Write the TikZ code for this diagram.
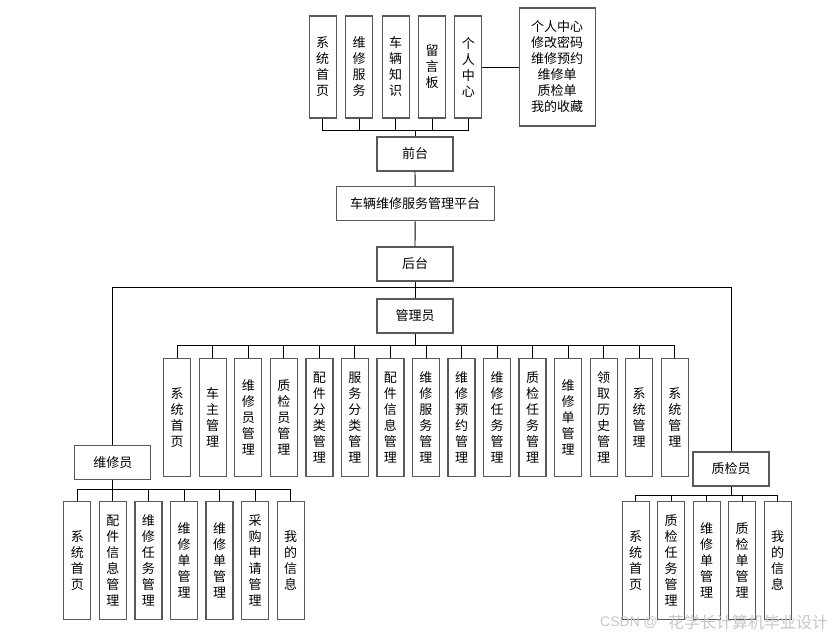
\documentclass[tikz,border=0pt]{standalone}
\usepackage{fontspec}
\setmainfont{Liberation Sans}
\newfontfamily\cjk{Noto Sans CJK SC}
\begin{document}
\begin{tikzpicture}[x=1pt,y=-1pt,
  box/.style={draw=black!65, line width=1.3pt, inner sep=0pt, align=center, font=\cjk\fontsize{13}{16}\selectfont},
  vbox/.style={box, minimum width=27pt, minimum height=118pt},
  hbox/.style={box, minimum width=76pt, minimum height=34pt},
  link/.style={draw=black, line width=0.9pt},
  wmark/.style={text=black!22, inner sep=0pt, anchor=west}]
\fill[white] (0,0) rectangle (839,637);
\useasboundingbox (0,0) rectangle (839,637);

% top (front) level
\node[vbox, minimum height=102pt] (t1) at (322.7,67) {系\\统\\首\\页};
\node[vbox, minimum height=102pt] (t2) at (359.2,67) {维\\修\\服\\务};
\node[vbox, minimum height=102pt] (t3) at (395.7,67) {车\\辆\\知\\识};
\node[vbox, minimum height=102pt] (t4) at (432,67) {留\\言\\板};
\node[vbox, minimum height=102pt] (t5) at (468.3,67) {个\\人\\中\\心};
\node[box, minimum width=76pt, minimum height=118pt] (pc) at (557.2,67) {个人中心\\修改密码\\维修预约\\维修单\\质检单\\我的收藏};

\node[hbox] (qt) at (415,154) {前台};
\node[hbox, minimum width=158pt] (pt) at (415.2,203.7) {车辆维修服务管理平台};
\node[hbox] (ht) at (415,264) {后台};
\node[hbox] (gly) at (415,316) {管理员};
\node[hbox] (wxy) at (112.8,462.7) {维修员};
\node[hbox] (zjy) at (731,469) {质检员};

% admin children
\foreach \t [count=\i] in {{系\\统\\首\\页},{车\\主\\管\\理},{维\\修\\员\\管\\理},{质\\检\\员\\管\\理},{配\\件\\分\\类\\管\\理},{服\\务\\分\\类\\管\\理},{配\\件\\信\\息\\管\\理},{维\\修\\服\\务\\管\\理},{维\\修\\预\\约\\管\\理},{维\\修\\任\\务\\管\\理},{质\\检\\任\\务\\管\\理},{维\\修\\单\\管\\理},{领\\取\\历\\史\\管\\理},{系\\统\\管\\理},{系\\统\\管\\理}}
  \node[vbox] (a\i) at ({177.2+35.54*(\i-1)},417.3) {\t};

% repairman children
\foreach \t [count=\i] in {{系\\统\\首\\页},{配\\件\\信\\息\\管\\理},{维\\修\\任\\务\\管\\理},{维\\修\\单\\管\\理},{维\\修\\单\\管\\理},{采\\购\\申\\请\\管\\理},{我\\的\\信\\息}}
  \node[vbox] (w\i) at ({77.3+35.57*(\i-1)},560.8) {\t};

% inspector children
\foreach \t [count=\i] in {{系\\统\\首\\页},{质\\检\\任\\务\\管\\理},{维\\修\\单\\管\\理},{质\\检\\单\\管\\理},{我\\的\\信\\息}}
  \node[vbox] (z\i) at ({635.7+35.5*(\i-1)},560.8) {\t};

% connectors
\coordinate (busT) at (415,130);
\foreach \i in {1,...,5} \draw[link] (t\i.south) |- (busT);
\draw[link] (busT) -- (qt.north);
\draw[link] (t5.east) -- (pc.west);
\draw[link] (qt.south) -- (pt.north);
\draw[link] (pt.south) -- (ht.north);
\draw[link] (ht.south) -- (gly.north);
\coordinate (hb) at (415,287.3);
\draw[link] (wxy.north) |- (hb) -| (zjy.north);

\coordinate (ab) at (415,345.5);
\draw[link] (gly.south) -- (ab);
\foreach \i in {1,...,15} \draw[link] (a\i.north) |- (ab);

\coordinate (wb) at (112.8,489.3);
\draw[link] (wxy.south) -- (wb);
\foreach \i in {1,...,7} \draw[link] (w\i.north) |- (wb);

\coordinate (zb) at (731,495.3);
\draw[link] (zjy.south) -- (zb);
\foreach \i in {1,...,5} \draw[link] (z\i.north) |- (zb);

% watermark
\node[wmark, font=\fontsize{14}{14}\selectfont] (wm1) at (600,622) {CSDN @};
\node[wmark, font=\cjk\fontsize{16}{16}\selectfont] (wm2) at (668,622) {花学长计算机毕业设计};
\end{tikzpicture}
\end{document}
